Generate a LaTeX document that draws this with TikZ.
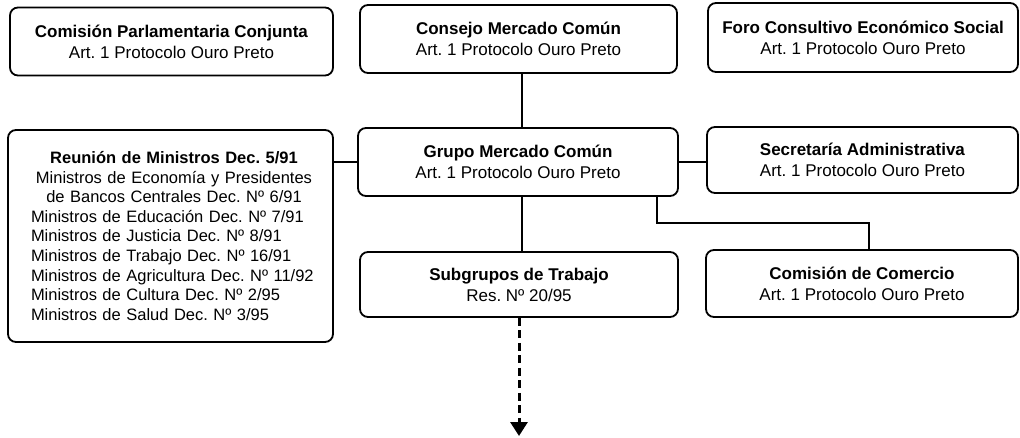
\documentclass[tikz,border=0pt]{standalone}
\usepackage{fontspec}
\setmainfont{Liberation Sans}
\usetikzlibrary{arrows.meta}
\frenchspacing
\tikzset{
  box/.style={draw, line width=1.8pt, rounded corners=8pt, align=center, inner sep=0pt,
    font=\fontsize{17}{21}\selectfont},
  conn/.style={line width=1.8pt},
  dasharrow/.style={line width=3pt, dash pattern=on 8pt off 4.5pt, -{Triangle[width=17pt,length=14pt]}}
}
\begin{document}
\begin{tikzpicture}[x=1pt,y=-1pt]
\useasboundingbox (0,0) rectangle (1020,438);
\node[box, minimum width=323pt, minimum height=68pt] (cpc) at (171.5,41.5) {\textbf{Comisión Parlamentaria Conjunta}\\Art. 1 Protocolo Ouro Preto};
\node[box, minimum width=317pt, minimum height=68pt] (cmc) at (518.5,39) {\textbf{Consejo Mercado Común}\\Art. 1 Protocolo Ouro Preto};
\node[box, minimum width=310pt, minimum height=69pt] (foro) at (863,37.5) {\textbf{Foro Consultivo Económico Social}\\Art. 1 Protocolo Ouro Preto};
\node[box, minimum width=325pt, minimum height=212pt] (rm) at (170.5,236) {};
\node[font=\fontsize{16.5}{19.6}\selectfont, text width=286pt, inner sep=0pt, align=left] (rmtext) at (174,236)
  {\centering\textbf{Reunión de Ministros Dec. 5/91}\\Ministros de Economía y Presidentes\\de Bancos Centrales Dec. Nº 6/91\par
   \raggedright Ministros de Educación Dec. Nº 7/91\\Ministros de Justicia Dec. Nº 8/91\\Ministros de Trabajo Dec. Nº 16/91\\Ministros de Agricultura Dec. Nº 11/92\\Ministros de Cultura Dec. Nº 2/95\\Ministros de Salud Dec. Nº 3/95\par};
\node[box, minimum width=320pt, minimum height=68pt] (gmc) at (518,162) {\textbf{Grupo Mercado Común}\\Art. 1 Protocolo Ouro Preto};
\node[box, minimum width=311pt, minimum height=66pt] (sec) at (862.5,160) {\textbf{Secretaría Administrativa}\\Art. 1 Protocolo Ouro Preto};
\node[box, minimum width=318pt, minimum height=65pt] (sub) at (519,284.5) {\textbf{Subgrupos de Trabajo}\\Res. Nº 20/95};
\node[box, minimum width=312pt, minimum height=67pt] (com) at (862,283.5) {\textbf{Comisión de Comercio}\\Art. 1 Protocolo Ouro Preto};
\coordinate (mid) at (522,0);
\coordinate (j) at (657,223);
\coordinate (jc) at (869,223);
\coordinate (end) at (519,436);
\draw[conn] (cmc.south -| mid) -- (gmc.north -| mid);
\draw[conn] (gmc.south -| mid) -- (sub.north -| mid);
\draw[conn] (gmc.west) -- (gmc.west -| rm.east);
\draw[conn] (gmc.east) -- (gmc.east -| sec.west);
\draw[conn] (gmc.south -| j) -- (j) -- (jc) -- (com.north -| jc);
\draw[dasharrow] (sub.south -| end) -- (end);
\end{tikzpicture}
\end{document}
